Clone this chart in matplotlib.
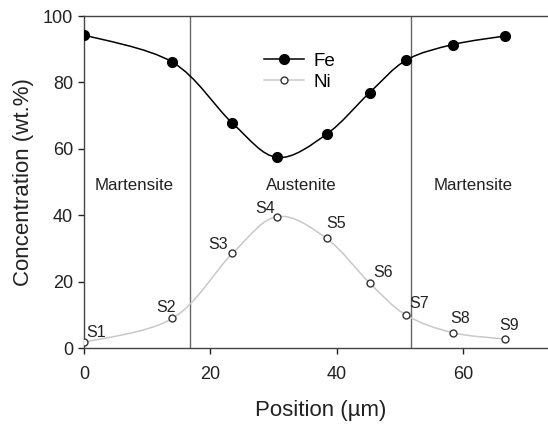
import numpy as np
import matplotlib.pyplot as plt
from matplotlib.path import Path
from matplotlib.patches import PathPatch

plt.rcParams['font.family'] = ['Liberation Sans', 'DejaVu Sans']

# data
position = [0.0, 14.0, 23.5, 30.6, 38.4, 45.2, 51.0, 58.4, 66.7]
fe = [94.3, 86.1, 67.7, 57.4, 64.4, 76.9, 86.7, 91.4, 94.0]
ni = [1.7, 8.9, 28.5, 39.6, 33.0, 19.6, 9.9, 4.6, 2.7]
sample_labels = ["S1", "S2", "S3", "S4", "S5", "S6", "S7", "S8", "S9"]
label_offsets = [(2, 5), (-16, 6), (-24, 4), (-22, 4), (0, 10), (4, 6), (3, 7), (-3, 10), (-6, 9)]
boundaries = [16.8, 51.8]
regions = [("Martensite", 7.9), ("Austenite", 34.4), ("Martensite", 61.6)]


def smooth_path(xs, ys):
    # Catmull-Rom style bezier through the measured points
    pts = np.column_stack([xs, ys])
    n = len(pts)
    verts = [pts[0]]
    codes = [Path.MOVETO]
    for i in range(n - 1):
        p0 = pts[max(i - 1, 0)]
        p1 = pts[i]
        p2 = pts[i + 1]
        p3 = pts[min(i + 2, n - 1)]
        c1 = p1 + (p2 - p0) / 6.0
        c2 = p2 - (p3 - p1) / 6.0
        verts += [c1, c2, p2]
        codes += [Path.CURVE4] * 3
    return Path(verts, codes)


fig = plt.figure(figsize=(5.48, 4.28), dpi=100)
ax = fig.add_axes([0.1533, 0.1869, 0.8646, 0.7757])
ax.set_xlim(0, 75)
ax.set_ylim(0, 100)

for b in boundaries:
    ax.axvline(b, color='#666666', linewidth=1.0, zorder=1)

ax.add_patch(PathPatch(smooth_path(position, fe), fill=False, edgecolor='black', linewidth=1.1, zorder=2))
ax.add_patch(PathPatch(smooth_path(position, ni), fill=False, edgecolor='#c8c8c8', linewidth=1.1, zorder=2))

ax.plot(position, fe, linestyle='none', marker='o', markersize=7, color='black', zorder=3)
ax.plot(position, ni, linestyle='none', marker='o', markersize=5, markerfacecolor='white',
        markeredgecolor='#333333', markeredgewidth=1.0, zorder=3)

# legend proxies
h_fe, = ax.plot([], [], color='black', linewidth=1.1, marker='o', markersize=7, label='Fe')
h_ni, = ax.plot([], [], color='#c8c8c8', linewidth=1.1, marker='o', markersize=5,
                markerfacecolor='white', markeredgecolor='#333333', label='Ni')
ax.legend(handles=[h_fe, h_ni], loc='upper left', bbox_to_anchor=(0.345, 0.94), frameon=False,
          fontsize=13.5, handlelength=2.1, handletextpad=0.5, labelspacing=0.2)

for (x, y, s, off) in zip(position, ni, sample_labels, label_offsets):
    ax.annotate(s, (x, y), xytext=off, textcoords='offset pixels', ha='left', va='baseline',
                fontsize=11.5, color='#222222')

for name, xc in regions:
    ax.text(xc, 48.9, name, ha='center', va='center', fontsize=12.2, color='#222222')

ax.set_xticks([0, 20, 40, 60])
ax.set_yticks([0, 20, 40, 60, 80, 100])
ax.tick_params(direction='out', length=4, width=1, labelsize=13, colors='#222222', pad=4)
ax.tick_params(axis='x', pad=9)
ax.spines['right'].set_visible(False)
for sp in ['left', 'bottom', 'top']:
    ax.spines[sp].set_color('#444444')
    ax.spines[sp].set_linewidth(1.0)

ax.set_xlabel('Position (µm)', fontsize=16, color='#222222', labelpad=12)
ax.set_ylabel('Concentration (wt.%)', fontsize=16, color='#222222', labelpad=6)

fig.savefig('out.png', dpi=100)
